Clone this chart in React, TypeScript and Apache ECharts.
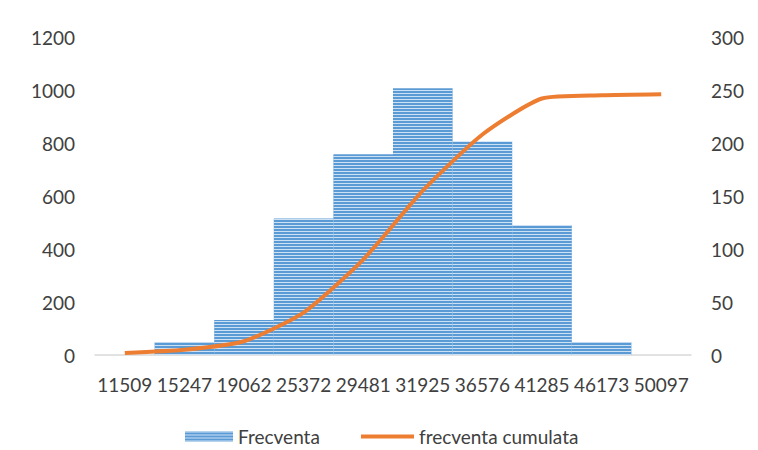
import React, { useEffect, useRef } from "react";
import * as echarts from "echarts";

const categories = ["11509", "15247", "19062", "25372", "29481", "31925", "36576", "41285", "46173", "50097"];
const frecventa = [0, 48, 132, 515, 758, 1007, 805, 491, 48, 0];
const cumulata = [2, 5, 13, 40, 90, 155, 208, 242, 245, 246];
const leftTicks = { min: 0, max: 1200, interval: 200 };
const rightTicks = { min: 0, max: 300, interval: 50 };

const FONT = "Lato, 'Open Sans', sans-serif";
const TXT = "#404040";

export default function App() {
  const ref = useRef<HTMLDivElement>(null);
  useEffect(() => {
    if (!ref.current) return;
    const chart = echarts.init(ref.current, null, { renderer: "svg" });
    const legendText = { fontFamily: FONT, fontSize: 19, color: TXT };
    chart.setOption({
      animation: false,
      backgroundColor: "#ffffff",
      textStyle: { fontFamily: FONT },
      grid: { left: 95, right: 67, top: 37, bottom: 95, containLabel: false },
      legend: [
        {
          left: 185,
          top: 427,
          padding: 0,
          itemWidth: 48,
          itemHeight: 10,
          textStyle: legendText,
          data: [{ name: "Frecventa", icon: "rect" }],
        },
        {
          left: 361,
          top: 427,
          padding: 0,
          itemWidth: 53,
          itemHeight: 4,
          textStyle: legendText,
          data: [{ name: "frecventa cumulata", icon: "rect" }],
        },
      ],
      xAxis: {
        type: "category",
        data: categories,
        axisLine: { lineStyle: { color: "#d9d9d9", width: 1.5 } },
        axisTick: { show: false },
        axisLabel: { interval: 0, margin: 20, fontSize: 19, color: TXT, fontFamily: FONT },
      },
      yAxis: [
        {
          type: "value",
          min: leftTicks.min,
          max: leftTicks.max,
          interval: leftTicks.interval,
          splitLine: { show: false },
          axisLine: { show: false },
          axisLabel: { margin: 20, fontSize: 19, color: TXT, fontFamily: FONT, formatter: (v: number) => String(v) },
        },
        {
          type: "value",
          min: rightTicks.min,
          max: rightTicks.max,
          interval: rightTicks.interval,
          splitLine: { show: false },
          axisLine: { show: false },
          axisLabel: { margin: 20, fontSize: 19, color: TXT, fontFamily: FONT, formatter: (v: number) => String(v) },
        },
      ],
      series: [
        {
          name: "Frecventa",
          type: "bar",
          data: frecventa,
          barCategoryGap: "0%",
          itemStyle: {
            color: "#5b9bd5",
            borderWidth: 0,
            decal: {
              symbol: "rect",
              symbolSize: 1,
              dashArrayX: [1, 0],
              dashArrayY: [1, 2],
              rotation: 0,
              color: "rgba(225,238,250,0.85)",
            },
          },
        },
        {
          name: "frecventa cumulata",
          type: "line",
          yAxisIndex: 1,
          data: cumulata,
          smooth: 0.2,
          symbol: "none",
          lineStyle: { color: "#ed7d31", width: 4 },
          itemStyle: { color: "#ed7d31" },
        },
      ],
    });
    return () => chart.dispose();
  }, []);
  return <div ref={ref} style={{ position: "fixed", left: 0, top: 0, width: 758, height: 450 }} />;
}
